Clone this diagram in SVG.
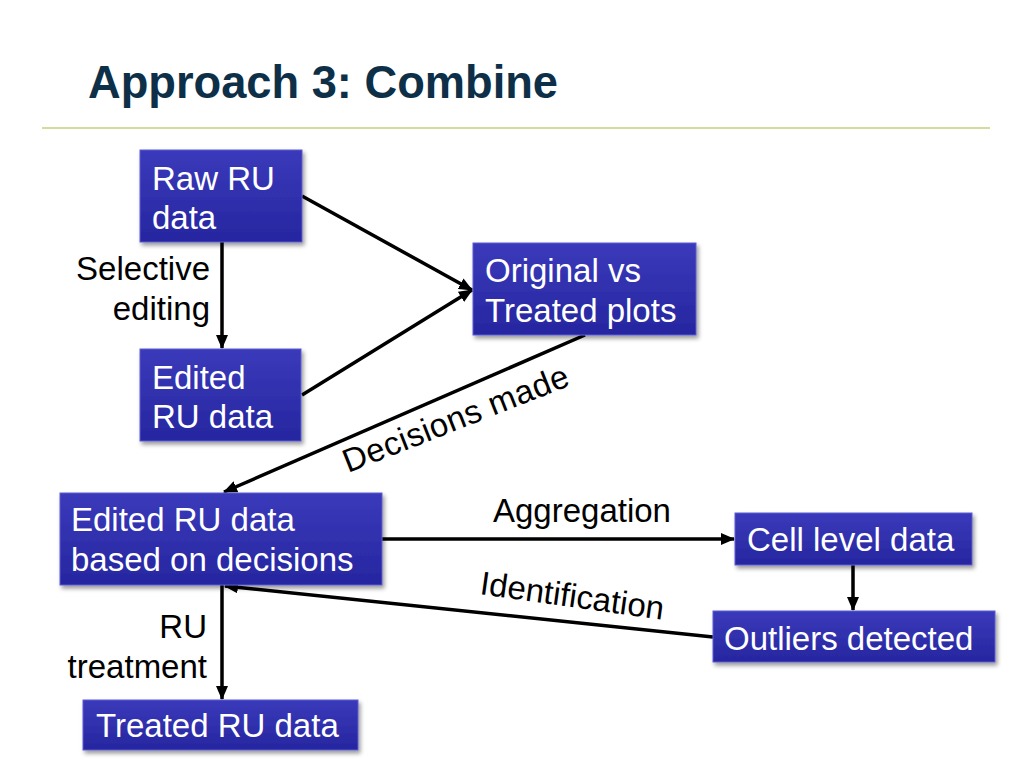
<svg xmlns="http://www.w3.org/2000/svg" width="1024" height="768" viewBox="0 0 1024 768">
<defs>
<linearGradient id="bg" x1="0" y1="0" x2="0" y2="1">
<stop offset="0" stop-color="#3a3abb"/>
<stop offset="1" stop-color="#2626a0"/>
</linearGradient>
<filter id="sh" x="-10%" y="-10%" width="130%" height="140%">
<feDropShadow dx="2" dy="3" stdDeviation="2" flood-color="#000" flood-opacity="0.4"/>
</filter>
<marker id="ah" markerUnits="userSpaceOnUse" markerWidth="14" markerHeight="12" refX="13" refY="6" orient="auto">
<path d="M0,0 L14,6 L0,12 z" fill="#000"/>
</marker>
<style>
.box{fill:url(#bg);stroke:#5c5cd0;stroke-width:1;filter:url(#sh)}
.bt{font-family:"Liberation Sans",Arial,sans-serif;font-size:33px;fill:#fff}
.lb{font-family:"Liberation Sans",Arial,sans-serif;font-size:33px;fill:#000}
.cn{stroke:#000;stroke-width:3.5;fill:none;marker-end:url(#ah)}
</style>
</defs>
<rect width="1024" height="768" fill="#fff"/>
<text x="88" y="98" font-family="Liberation Sans,Arial,sans-serif" font-weight="bold" font-size="47" fill="#0d3048" textLength="470" lengthAdjust="spacingAndGlyphs">Approach 3: Combine</text>
<line x1="42" y1="128" x2="990" y2="128" stroke="#d4dc9c" stroke-width="2"/>

<g id="connectors">
<line class="cn" x1="302" y1="196" x2="472" y2="290"/>
<line class="cn" x1="302" y1="395" x2="472" y2="290"/>
<line class="cn" x1="222" y1="242" x2="222" y2="348"/>
<line class="cn" x1="585" y1="335" x2="224" y2="492"/>
<line class="cn" x1="382" y1="539" x2="734" y2="539"/>
<line class="cn" x1="853" y1="565" x2="853" y2="610"/>
<line class="cn" x1="713" y1="637" x2="225" y2="586"/>
<line class="cn" x1="222" y1="585" x2="222" y2="699"/>
<text class="lb" text-anchor="end"><tspan x="210" y="280">Selective</tspan><tspan x="210" y="320">editing</tspan></text>
<text class="lb" transform="translate(348,473) rotate(-21.5)" textLength="240">Decisions made</text>
<text class="lb" x="493" y="522">Aggregation</text>
<text class="lb" transform="translate(479,594) rotate(8)">Identification</text>
<text class="lb" text-anchor="end"><tspan x="207" y="638">RU</tspan><tspan x="207" y="678">treatment</tspan></text>
</g>

<g id="raw">
<rect class="box" x="140" y="150" width="162" height="92"/>
<text class="bt"><tspan x="152" y="190">Raw RU</tspan><tspan x="152" y="229">data</tspan></text>
</g>
<g id="plots">
<rect class="box" x="473" y="243" width="223" height="92"/>
<text class="bt"><tspan x="485" y="282">Original vs</tspan><tspan x="485" y="322">Treated plots</tspan></text>
</g>
<g id="edited">
<rect class="box" x="140" y="349" width="161" height="92"/>
<text class="bt"><tspan x="152" y="389">Edited</tspan><tspan x="152" y="428">RU data</tspan></text>
</g>
<g id="decisions">
<rect class="box" x="60" y="493" width="322" height="92"/>
<text class="bt"><tspan x="71" y="531">Edited RU data</tspan><tspan x="71" y="571">based on decisions</tspan></text>
</g>
<g id="cell">
<rect class="box" x="735" y="513" width="237" height="52"/>
<text class="bt" x="747" y="551">Cell level data</text>
</g>
<g id="outliers">
<rect class="box" x="713" y="611" width="282" height="51"/>
<text class="bt" x="724" y="650">Outliers detected</text>
</g>
<g id="treated">
<rect class="box" x="83" y="700" width="275" height="50"/>
<text class="bt" x="96" y="737">Treated RU data</text>
</g>
</svg>
